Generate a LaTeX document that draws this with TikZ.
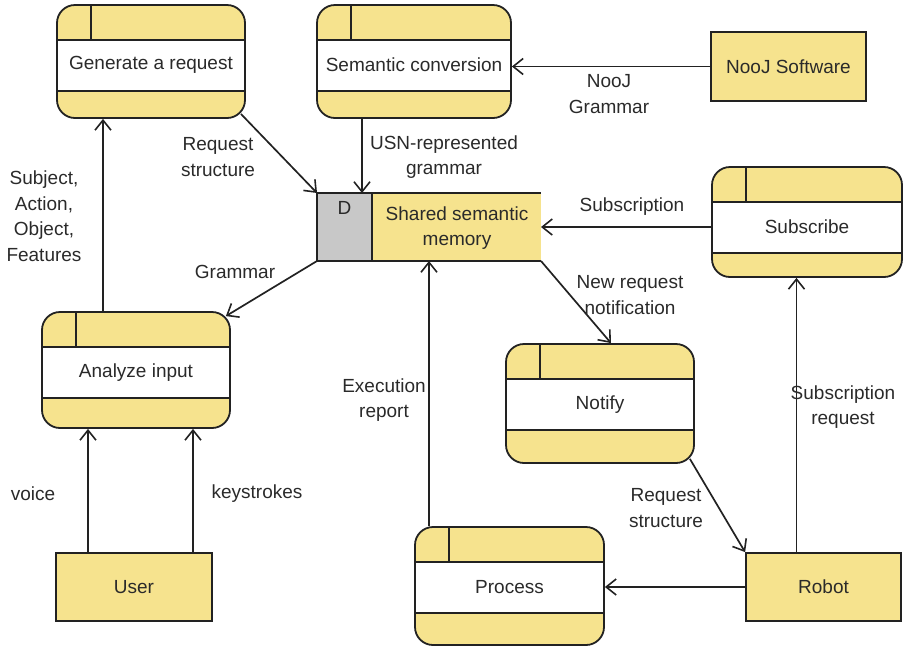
\documentclass[tikz,border=0pt]{standalone}
\usepackage{fontspec}
\setmainfont{Liberation Sans}
\usetikzlibrary{arrows.meta,calc}
\definecolor{yel}{HTML}{F6E38E}
\definecolor{dsgray}{HTML}{C8C8C8}
\definecolor{ink}{HTML}{222222}
\definecolor{txt}{HTML}{2A2A2A}
\begin{document}
\begin{tikzpicture}[x=1pt,y=-1pt,
  every node/.style={font=\fontsize{19}{25.5}\selectfont, text=txt},
  lbl/.style={align=center, inner sep=0pt},
  proc/.style={draw=ink, line width=1.8pt, fill=yel, rounded corners=18pt, inner sep=0pt,
    path picture={
      \fill[white, sharp corners] ([yshift=-35pt]path picture bounding box.north west) rectangle ([yshift=-86pt]path picture bounding box.north east);
      \draw[ink, line width=1.8pt, sharp corners] ([yshift=-35pt]path picture bounding box.north west) -- ([yshift=-35pt]path picture bounding box.north east);
      \draw[ink, line width=1.8pt, sharp corners] ([yshift=-86pt]path picture bounding box.north west) -- ([yshift=-86pt]path picture bounding box.north east);
      \draw[ink, line width=1.8pt, sharp corners] ([xshift=34pt]path picture bounding box.north west) -- ([xshift=34pt,yshift=-35pt]path picture bounding box.north west);
    }},
  ext/.style={draw=ink, line width=1.8pt, fill=yel, inner sep=0pt, minimum height=68pt, minimum width=155pt},
  arr/.style={draw=ink, line width=1.7pt, -{Straight Barb[length=10pt,width=16pt,line width=1.6pt]}}
]
\useasboundingbox (0,0) rectangle (909,649);

% process boxes
\node[proc, minimum width=188pt, minimum height=113pt] (gen) at (151,61.5) {};
\node (gent) at ([yshift=-61pt]gen.north) {Generate a request};
\node[proc, minimum width=194pt, minimum height=113pt] (sem) at (414,61.5) {};
\node (semt) at ([yshift=-61pt]sem.north) {Semantic conversion};
\node[proc, minimum width=190pt, minimum height=110pt] (sub) at (807,222) {};
\node (subt) at ([yshift=-61pt]sub.north) {Subscribe};
\node[proc, minimum width=188pt, minimum height=116pt] (ana) at (136,370) {};
\node (anat) at ([yshift=-61pt]ana.north) {Analyze input};
\node[proc, minimum width=188pt, minimum height=119pt] (notify) at (600,403.5) {};
\node (notifyt) at ([yshift=-61pt]notify.north) {Notify};
\node[proc, minimum width=189pt, minimum height=118pt] (proc) at (509.5,586) {};
\node (proct) at ([yshift=-61pt]proc.north) {Process};

% external entities
\node[ext, minimum width=156pt] (user) at (134,587) {User};
\node[ext] (robot) at (823.5,587) {Robot};
\node[ext, minimum height=69pt] (nooj) at (788.5,66.5) {NooJ Software};

% data store
\node[minimum width=224pt, minimum height=68pt, inner sep=0pt, outer sep=0pt] (ds) at (429,227) {};
\fill[yel] (ds.north west) rectangle (ds.south east);
\path (ds.north west) ++(55,0) coordinate (dsm);
\filldraw[fill=dsgray, draw=ink, line width=1.8pt] (ds.north west) rectangle (dsm |- ds.south);
\draw[ink, line width=1.8pt] (ds.north west) -- (ds.north east) (ds.south west) -- (ds.south east);
\node (dsd) at ($(ds.north west)!0.5!(dsm)+(0,15)$) {D};
\node[lbl] (dst) at (457,228) {Shared semantic\\memory};

% connectors
\path ([xshift=-33pt]ana.north) coordinate (c1);
\draw[arr] (c1) -- (c1 |- gen.south);
\draw[arr] ([xshift=-5pt,yshift=5pt]gen.south east) -- (ds.north west);
\path ([xshift=-52pt]sem.south) coordinate (c2);
\draw[arr] (c2) -- (c2 |- ds.north);
\draw[arr] (nooj.west) -- (nooj.west -| sem.east);
\draw[arr] (sub.west |- ds.center) -- (ds.east);
\draw[arr] (ds.south west) -- ([xshift=-5pt,yshift=-5pt]ana.north east);
\draw[arr] (ds.south east) -- ([xshift=11pt]notify.north);
\draw[arr] (proc.north -| ds.south) -- (ds.south);
\draw[arr] ([xshift=-5pt,yshift=5pt]notify.south east) -- (robot.north west);
\draw[arr] (robot.west) -- (robot.west -| proc.east);
\path ([xshift=-27pt]robot.north) coordinate (c3);
\draw[arr] (c3) -- (c3 |- sub.south);
\path ([xshift=-46pt]user.north) coordinate (c4);
\draw[arr] (c4) -- (c4 |- ana.south);
\path ([xshift=59pt]user.north) coordinate (c5);
\draw[arr] (c5) -- (c5 |- ana.south);

% labels
\node[lbl] (l1) at (44,216) {Subject,\\Action,\\Object,\\Features};
\node[lbl] (l2) at (218,157) {Request\\structure};
\node[lbl] (l3) at (444,157) {USN-represented\\grammar};
\node[lbl] (l4) at (609,94) {NooJ\\Grammar};
\node[lbl] (l5) at (632,207) {Subscription};
\node[lbl] (l6) at (235,272) {Grammar};
\node[lbl] (l7) at (630,295) {New request\\notification};
\node[lbl] (l8) at (384,400) {Execution\\report};
\node[lbl] (l9) at (666,508) {Request\\structure};
\node[lbl] (l10) at (843,407) {Subscription\\request};
\node[lbl] (l11) at (33,494) {voice};
\node[lbl] (l12) at (257,494) {keystrokes};
\end{tikzpicture}
\end{document}
